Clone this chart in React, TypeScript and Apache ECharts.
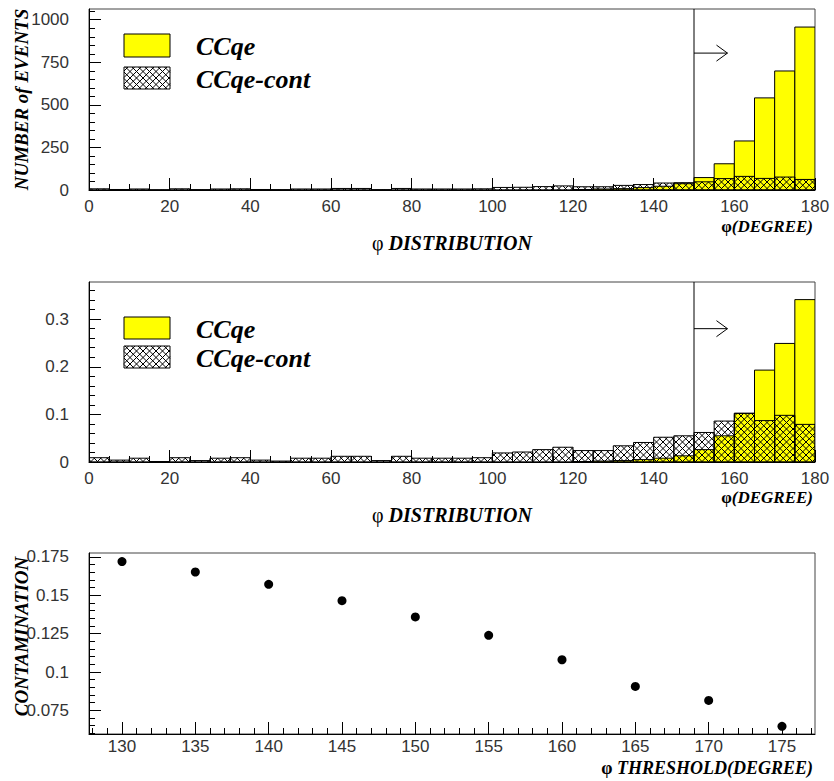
import React, { useEffect, useRef } from "react";
import * as echarts from "echarts";

// ---------------- data ----------------
const BIN_WIDTH = 5; // degrees per histogram bin
const binStarts = [
  0, 5, 10, 15, 20, 25, 30, 35, 40, 45, 50, 55, 60, 65, 70, 75, 80, 85,
  90, 95, 100, 105, 110, 115, 120, 125, 130, 135, 140, 145, 150, 155, 160, 165, 170, 175,
];

// top panel: number of events
const ccqeCounts = [
  0, 0, 0, 0, 0, 0, 0, 0, 0, 0, 0, 0, 0, 0, 0, 0, 0, 0,
  0, 0, 0, 0, 0, 0, 3, 6, 8, 14, 22, 37, 73, 154, 288, 541, 699, 957,
];
const contCounts = [
  7, 3, 6, 1, 7, 2, 6, 7, 3, 2, 6, 6, 9, 9, 2, 9, 6, 6,
  6, 7, 15, 16, 20, 24, 19, 19, 27, 32, 41, 43, 48, 67, 80, 68, 76, 62,
];

// middle panel: normalized distributions
const ccqeNorm = [
  0, 0, 0, 0, 0, 0, 0, 0, 0, 0, 0, 0, 0, 0, 0, 0, 0, 0,
  0, 0, 0, 0, 0, 0, 0.001, 0.002, 0.003, 0.005, 0.008, 0.013, 0.026, 0.055, 0.1025, 0.193, 0.249, 0.341,
];
const contNorm = [
  0.009, 0.004, 0.008, 0.001, 0.009, 0.003, 0.008, 0.009, 0.004, 0.002, 0.008, 0.008,
  0.012, 0.012, 0.003, 0.012, 0.008, 0.008, 0.008, 0.009,
  0.019, 0.021, 0.026, 0.031, 0.024, 0.024,
  0.034, 0.041, 0.052, 0.055, 0.062,
  0.086, 0.102, 0.087, 0.098, 0.079,
];

// bottom panel: contamination vs threshold
const thresholds = [130, 135, 140, 145, 150, 155, 160, 165, 170, 175];
const contamination = [0.172, 0.1652, 0.1572, 0.1465, 0.1359, 0.1239, 0.108, 0.0906, 0.0815, 0.0646];

// tick labels
const distTicks = [0, 20, 40, 60, 80, 100, 120, 140, 160, 180];
const countTicks = [0, 250, 500, 750, 1000];
const normTicks = [0, 0.1, 0.2, 0.3];
const thresholdTicks = [130, 135, 140, 145, 150, 155, 160, 165, 170, 175];
const contamTicks = [0.075, 0.1, 0.125, 0.15, 0.175];

// cut annotation
const CUT_DEG = 150;
const ARROW_END_DEG = 158.3;
const ARROW_Y_COUNTS = 804;
const ARROW_Y_NORM = 0.28;

// axis ranges
const COUNT_MAX = 1063;
const NORM_MAX = 0.378;
const THR_MIN = 127.75;
const THR_MAX = 177.25;
const CONT_MIN = 0.0596;
const CONT_MAX = 0.1776;

// ---------------- helpers ----------------
const SANS = '"Liberation Sans", Arial, sans-serif';
const SERIF = '"Liberation Serif", "Times New Roman", serif';
const HATCH = 6.5;

function minorTicks(min: number, max: number, step: number, major: number) {
  const out: number[] = [];
  const n0 = Math.ceil(min / step - 1e-9);
  const n1 = Math.floor(max / step + 1e-9);
  for (let n = n0; n <= n1; n++) {
    const v = +(n * step).toFixed(6);
    const r = v / major;
    if (Math.abs(r - Math.round(r)) > 1e-6) out.push(v);
  }
  return out;
}

function hatchSegments(x0: number, y0: number, x1: number, y1: number, p: number) {
  const segs: number[][] = [];
  let c = Math.ceil((x0 - y1) / p) * p;
  for (; c <= x1 - y0; c += p) {
    const lo = Math.max(x0, y0 + c);
    const hi = Math.min(x1, y1 + c);
    if (hi - lo > 0.05) segs.push([lo, lo - c, hi, hi - c]);
  }
  c = Math.ceil((x0 + y0) / p) * p;
  for (; c <= x1 + y1; c += p) {
    const lo = Math.max(x0, c - y1);
    const hi = Math.min(x1, c - y0);
    if (hi - lo > 0.05) segs.push([lo, c - lo, hi, c - hi]);
  }
  return segs;
}

function hatchLines(x0: number, y0: number, x1: number, y1: number) {
  return hatchSegments(x0, y0, x1, y1, HATCH).map((s) => ({
    type: "line",
    shape: { x1: s[0], y1: s[1], x2: s[2], y2: s[3] },
    style: { stroke: "#000", lineWidth: 1 },
    silent: true,
  }));
}

const fmt = (v: number) => String(+(+v).toFixed(4));

function axisPair(
  dim: "x" | "y",
  gridIndex: number,
  min: number,
  max: number,
  majors: number[],
  minors: number[],
  extra: any = {},
  labelMargin?: number
) {
  const base = {
    type: "value",
    gridIndex,
    min,
    max,
    position: dim === "x" ? "bottom" : "left",
    splitLine: { show: false },
  };
  const main = {
    ...base,
    axisLine: { show: true, onZero: false, lineStyle: { color: "#000", width: 1 } },
    axisTick: { show: true, inside: true, length: 12, customValues: majors, lineStyle: { color: "#000" } },
    axisLabel: {
      show: true,
      customValues: majors,
      formatter: fmt,
      fontFamily: SANS,
      fontSize: 17,
      color: "#333",
      margin: labelMargin != null ? labelMargin : dim === "x" ? 8 : 20,
    },
    nameMoveOverlap: false,
    ...extra,
  };
  const minor = {
    ...base,
    axisLine: { show: false, onZero: false },
    axisTick: { show: true, inside: true, length: 6, customValues: minors, lineStyle: { color: "#000" } },
    axisLabel: { show: false },
  };
  return [main, minor];
}

function histSeries(xi: number, yi: number, values: number[], mode: "fill" | "hatch") {
  return {
    type: "custom",
    xAxisIndex: xi,
    yAxisIndex: yi,
    clip: true,
    z: mode === "fill" ? 2 : 3,
    silent: true,
    data: binStarts.map((s, i) => [s, s + BIN_WIDTH, values[i]]),
    encode: { x: [0, 1], y: 2 },
    renderItem: (_params: any, api: any) => {
      const v = api.value(2);
      if (!(v > 0)) return null;
      const tl = api.coord([api.value(0), v]);
      const br = api.coord([api.value(1), 0]);
      const shape = { x: tl[0], y: tl[1], width: br[0] - tl[0], height: br[1] - tl[1] };
      if (mode === "fill") {
        return { type: "rect", shape, style: { fill: "#ffff00", stroke: "#000", lineWidth: 1 } };
      }
      const children: any[] = hatchLines(tl[0], tl[1], br[0], br[1]);
      children.push({ type: "rect", shape, style: { fill: "none", stroke: "#000", lineWidth: 1 } });
      return { type: "group", children };
    },
  };
}

function cutSeries(xi: number, yi: number, yTop: number, arrowY: number) {
  return {
    type: "custom",
    xAxisIndex: xi,
    yAxisIndex: yi,
    z: 5,
    silent: true,
    data: [[CUT_DEG, yTop, arrowY, ARROW_END_DEG]],
    encode: { x: [0, 3], y: [1, 2] },
    renderItem: (_params: any, api: any) => {
      const c = api.value(0);
      const b = api.coord([c, 0]);
      const t = api.coord([c, api.value(1)]);
      const a0 = api.coord([c, api.value(2)]);
      const a1 = api.coord([api.value(3), api.value(2)]);
      const st = { stroke: "#000", lineWidth: 1, fill: "none" };
      return {
        type: "group",
        children: [
          { type: "line", shape: { x1: b[0], y1: b[1], x2: t[0], y2: t[1] }, style: st },
          { type: "line", shape: { x1: a0[0], y1: a0[1], x2: a1[0], y2: a1[1] }, style: st },
          {
            type: "polyline",
            shape: { points: [[a1[0] - 11, a1[1] - 8], [a1[0], a1[1]], [a1[0] - 11, a1[1] + 8]] },
            style: st,
          },
        ],
      };
    },
  };
}

const titleRich = {
  p: { fontFamily: SERIF, fontSize: 20, fontStyle: "normal", fontWeight: "normal", color: "#000" },
  t: { fontFamily: SERIF, fontSize: 20, fontStyle: "italic", fontWeight: "bold", color: "#000" },
};

function legendGraphics(boxTops: number[], heights: number[]) {
  const left = 124;
  const w = 46;
  const els: any[] = [];
  const [yTop, hTop] = [boxTops[0], heights[0]];
  const [hatTop, hHat] = [boxTops[1], heights[1]];
  els.push({
    type: "rect",
    shape: { x: left, y: yTop, width: w, height: hTop },
    style: { fill: "#ffff00", stroke: "#000", lineWidth: 1 },
  });
  els.push(...hatchLines(left, hatTop, left + w, hatTop + hHat));
  els.push({
    type: "rect",
    shape: { x: left, y: hatTop, width: w, height: hHat },
    style: { fill: "none", stroke: "#000", lineWidth: 1 },
  });
  const labels = ["CCqe", "CCqe-cont"];
  const centers = [yTop + hTop / 2 + 1, hatTop + hHat / 2 + 1];
  labels.forEach((txt, i) => {
    els.push({
      type: "text",
      x: 196,
      y: centers[i],
      style: {
        text: txt,
        font: `italic bold 26px ${SERIF}`,
        fill: "#000",
        align: "left",
        verticalAlign: "middle",
      },
    });
  });
  return els;
}

function rightTitle(text: string, y: number, size: number) {
  return {
    type: "text",
    x: 813,
    y,
    style: {
      text,
      rich: {
        p: { fontFamily: SERIF, fontSize: size, fontWeight: "bold", fontStyle: "normal", fill: "#000" },
        t: { fontFamily: SERIF, fontSize: size, fontWeight: "bold", fontStyle: "italic", fill: "#000" },
      },
      font: `italic bold ${size}px ${SERIF}`,
      fill: "#000",
      align: "right",
      verticalAlign: "middle",
    },
  };
}

function buildOption() {
  const distMinors = minorTicks(0, 180, 5, 20);
  const countMinors = minorTicks(0, COUNT_MAX, 50, 250);
  const normMinors = minorTicks(0, NORM_MAX, 0.02, 0.1);
  const thrMinors = minorTicks(THR_MIN, THR_MAX, 1, 5);
  const contMinors = minorTicks(CONT_MIN, CONT_MAX, 0.005, 0.025);

  const distName = {
    name: "{p|φ} {t|DISTRIBUTION}",
    nameLocation: "middle",
    nameGap: 43,
    nameMoveOverlap: false,
    nameTextStyle: { fontFamily: SERIF, fontSize: 20, rich: titleRich },
  };
  const yName = (name: string, pad: number[]) => ({
    name,
    nameLocation: "middle",
    nameRotate: 90,
    nameGap: 58,
    nameMoveOverlap: false,
    nameTextStyle: {
      fontFamily: SERIF,
      fontSize: 19,
      fontStyle: "italic",
      fontWeight: "bold",
      color: "#000",
      padding: pad,
    },
  });

  const gridBase = {
    show: true,
    borderColor: "#444",
    borderWidth: 1,
    backgroundColor: "transparent",
    containLabel: false,
    outerBoundsMode: "none",
  };

  return {
    animation: false,
    backgroundColor: "#fff",
    grid: [
      { ...gridBase, left: 89, top: 9, width: 726, height: 181 },
      { ...gridBase, left: 89, top: 282, width: 726, height: 180 },
      { ...gridBase, left: 89, top: 553, width: 726, height: 181 },
    ],
    xAxis: [
      ...axisPair("x", 0, 0, 180, distTicks, distMinors, distName),
      ...axisPair("x", 1, 0, 180, distTicks, distMinors, distName),
      ...axisPair("x", 2, THR_MIN, THR_MAX, thresholdTicks, thrMinors, {}, 4),
    ],
    yAxis: [
      ...axisPair("y", 0, 0, COUNT_MAX, countTicks, countMinors, yName("NUMBER of EVENTS", [0, 0, 0, 0])),
      ...axisPair("y", 1, 0, NORM_MAX, normTicks, normMinors),
      ...axisPair("y", 2, CONT_MIN, CONT_MAX, contamTicks, contMinors, yName("CONTAMINATION", [0, 0, 0, 14])),
    ],
    series: [
      histSeries(0, 0, ccqeCounts, "fill"),
      histSeries(0, 0, contCounts, "hatch"),
      cutSeries(0, 0, COUNT_MAX, ARROW_Y_COUNTS),
      histSeries(2, 2, ccqeNorm, "fill"),
      histSeries(2, 2, contNorm, "hatch"),
      cutSeries(2, 2, NORM_MAX, ARROW_Y_NORM),
      {
        type: "scatter",
        xAxisIndex: 4,
        yAxisIndex: 4,
        symbol: "circle",
        symbolSize: 9,
        itemStyle: { color: "#000", opacity: 1 },
        data: thresholds.map((t, i) => [t, contamination[i]]),
        z: 4,
      },
    ],
    graphic: [
      ...legendGraphics([34, 67], [23, 22]),
      ...legendGraphics([317, 346], [22, 22]),
      rightTitle("{p|φ}{t|(DEGREE)}", 226, 17),
      rightTitle("{p|φ}{t|(DEGREE)}", 497, 17),
      rightTitle("{p|φ} {t|THRESHOLD(DEGREE)}", 768, 18),
    ],
  };
}

export default function App() {
  const ref = useRef<HTMLDivElement>(null);
  useEffect(() => {
    if (!ref.current) return;
    const chart = echarts.init(ref.current, null, { renderer: "svg" });
    chart.setOption(buildOption() as any);
    return () => chart.dispose();
  }, []);
  return (
    <div
      ref={ref}
      style={{ position: "fixed", left: 0, top: 0, width: 834, height: 781, background: "#fff" }}
    />
  );
}
